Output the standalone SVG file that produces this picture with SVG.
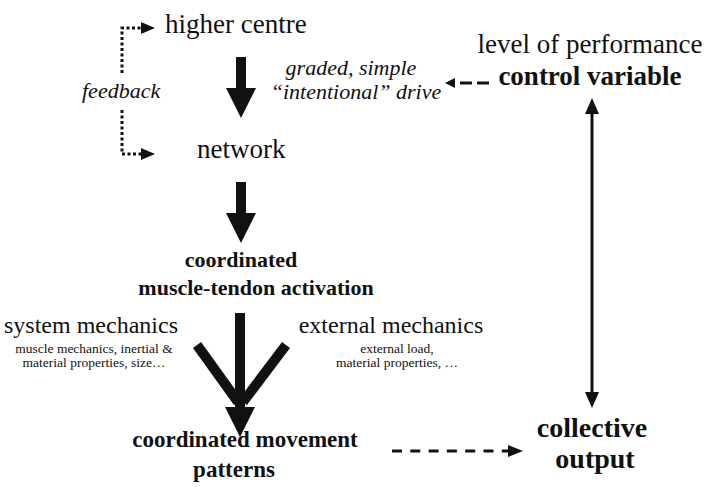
<svg xmlns="http://www.w3.org/2000/svg" width="708" height="487" viewBox="0 0 708 487">
<style>
  text { fill: #111; }
  .n { font-size: 27px; }
  .it { font-style: italic; font-size: 22px; }
  .b { font-weight: bold; }
  .sm { font-size: 13.5px; }
  .c { text-anchor: middle; }
  .dot { fill: none; stroke: #111; stroke-width: 3; stroke-dasharray: 3 2.5; }
  .dash { fill: none; stroke: #111; stroke-width: 3; }
  .thin { fill: none; stroke: #111; stroke-width: 3; }
  .fill { fill: #111; stroke: none; }
</style>
<rect width="708" height="487" fill="#fff"/>
<g font-family="Liberation Serif, serif">
<g id="higher-centre"><text class="n" x="165" y="33">higher centre</text></g>
<g id="network"><text class="n" x="197" y="158">network</text></g>
<g id="feedback-label"><text class="it" x="82" y="98">feedback</text></g>
<g id="drive-label">
  <text class="it c" x="351" y="75" font-size="21.5">graded, simple</text>
  <text class="it c" x="356" y="99" font-size="21.5">“intentional” drive</text>
</g>
<g id="control-variable">
  <text class="n c" x="590" y="53">level of performance</text>
  <text class="n b c" x="590" y="85">control variable</text>
</g>
<g id="muscle-activation">
  <text class="b c" x="241" y="267" font-size="22">coordinated</text>
  <text class="b c" x="256" y="295" font-size="22">muscle-tendon activation</text>
</g>
<g id="system-mechanics">
  <text class="c" x="91" y="333" font-size="24">system mechanics</text>
  <text class="sm c" x="94" y="353">muscle mechanics, inertial &amp;</text>
  <text class="sm c" x="94" y="367">material properties, size…</text>
</g>
<g id="external-mechanics">
  <text class="c" x="391" y="333" font-size="24">external mechanics</text>
  <text class="sm c" x="397" y="353">external load,</text>
  <text class="sm c" x="397" y="367">material properties, …</text>
</g>
<g id="movement-patterns">
  <text class="b c" x="245" y="447" font-size="23">coordinated movement</text>
  <text class="b c" x="234" y="477" font-size="23">patterns</text>
</g>
<g id="collective-output">
  <text class="b c" x="592" y="437" font-size="28">collective</text>
  <text class="b c" x="595" y="468" font-size="28">output</text>
</g>
</g>
<g id="connectors">
  <path class="dot" d="M122 73 V28 H142"/>
  <polygon class="fill" points="141,22 155,28 141,34"/>
  <path class="dot" d="M122 110 V154 H142"/>
  <polygon class="fill" points="141,148 155,154 141,160"/>
  <polygon class="fill" points="236,57 246,57 246,88 256,88 241,118 226,88 236,88"/>
  <polygon class="fill" points="236,182 246,182 246,213 256,213 241,243 226,213 236,213"/>
  <line x1="197" y1="345" x2="238" y2="402" stroke="#111" stroke-width="10"/>
  <line x1="286" y1="345" x2="243" y2="402" stroke="#111" stroke-width="10"/>
  <polygon class="fill" points="235,313 245,313 245,407 255,407 240,437 225,407 235,407"/>
  <line class="dash" x1="460" y1="83" x2="490" y2="83" stroke-dasharray="12 5"/>
  <polygon class="fill" points="455,78 445,83 455,88"/>
  <line class="thin" x1="592" y1="110" x2="592" y2="395"/>
  <polygon class="fill" points="592,98 599,114 585,114"/>
  <polygon class="fill" points="592,408 599,392 585,392"/>
  <line class="dash" x1="392" y1="451" x2="508" y2="451" stroke-dasharray="10 8.3"/>
  <polygon class="fill" points="508,445 523,451 508,457"/>
</g>
</svg>
